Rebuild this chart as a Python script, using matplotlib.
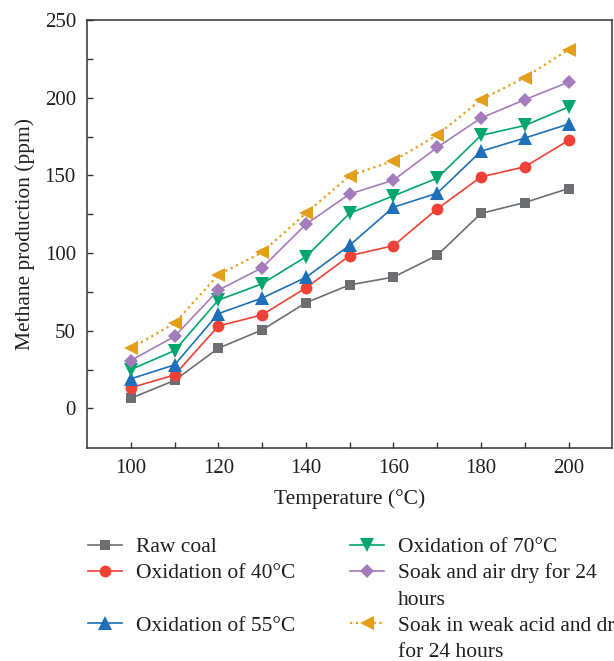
import matplotlib
matplotlib.use("Agg")
import matplotlib.pyplot as plt
from matplotlib.lines import Line2D

plt.rcParams['font.family'] = ['Liberation Serif', 'DejaVu Serif']
plt.rcParams['mathtext.fontset'] = 'stix'

temperature = [100, 110, 120, 130, 140, 150, 160, 170, 180, 190, 200]
raw_coal = [6.5, 18, 38.7, 50.5, 68, 79.5, 84.5, 98.5, 125.5, 132.5, 141.5]
ox_40 = [13.3, 21.5, 53, 60.2, 77.5, 98.3, 104.7, 128.4, 149, 155.5, 172.5]
ox_55 = [19, 28, 61, 71, 84.3, 105, 129.5, 138.5, 165.5, 174, 183]
ox_70 = [25, 37.2, 69.7, 80.2, 97.6, 125.6, 136.8, 148.2, 175.7, 182.1, 194]
soak_air = [30.8, 46.3, 76.1, 90.5, 118.5, 138, 146.9, 168, 186.9, 198.7, 210]
soak_acid = [38.7, 54.8, 86, 100.4, 125.6, 149.7, 159.4, 175.9, 198.7, 212.9, 231]

labels = ["Raw coal", "Oxidation of 40°C", "Oxidation of 55°C",
          "Oxidation of 70°C", "Soak and air dry for 24\nhours",
          "Soak in weak acid and dry\nfor 24 hours"]

colors = ["#6d6e71", "#ef4136", "#1c6fb8", "#00a66e", "#a57cbb", "#e39f1a"]
markers = ["s", "o", "^", "v", "D", "<"]
msizes = [7.5, 8.5, 9.5, 9.5, 7.5, 10]
styles = ["-", "-", "-", "-", "-", ":"]
series = [raw_coal, ox_40, ox_55, ox_70, soak_air, soak_acid]

W, H = 614, 661
fig = plt.figure(figsize=(W / 100, H / 100), dpi=100)
ax = fig.add_axes([87 / W, 1 - 448 / H, (612.3 - 87) / W, (448 - 20) / H])

text_color = "#231f20"
handles = []
for ys, c, m, ms, ls, lab in zip(series, colors, markers, msizes, styles, labels):
    lw = 1.2 if ls == "-" else 1.6
    h, = ax.plot(temperature, ys, color=c, marker=m, markersize=ms, linestyle=ls,
                 linewidth=lw, markeredgewidth=0, label=lab, zorder=3)
    handles.append(h)

ax.set_xlim(90, 210)
ax.set_ylim(-25.5, 250)
ax.set_xticks([100, 120, 140, 160, 180, 200])
ax.set_xticks([110, 130, 150, 170, 190], minor=True)
ax.set_yticks([0, 50, 100, 150, 200, 250])
ax.set_yticks([25, 75, 125, 175, 225], minor=True)
ax.tick_params(which="both", direction="in", length=4, width=1, color="#333333",
               labelsize=15, labelcolor=text_color, top=False, right=False, pad=8)
for s in ax.spines.values():
    s.set_color("#333333")
    s.set_linewidth(1.1)

ax.set_xlabel("Temperature (°C)", fontsize=15.5, color=text_color, labelpad=8)
ax.set_ylabel("Methane production (ppm)", fontsize=15.5, color=text_color, labelpad=7)


def blank(lab):
    return Line2D([], [], linestyle="none", marker="none", label=lab)


col1 = [handles[0], handles[1], blank(" "), handles[2]]
col2 = [handles[3], Line2D([], [], color=handles[4].get_color(), marker="D",
                           markersize=7.5, markeredgewidth=0, linewidth=1.2),
        blank(" "), Line2D([], [], color=handles[5].get_color(), marker="<",
                           markersize=10, markeredgewidth=0, linewidth=1.6,
                           linestyle=":"), blank(" ")]
lab1 = ["Raw coal", "Oxidation of 40°C", " ", "Oxidation of 55°C"]
lab2 = ["Oxidation of 70°C", "Soak and air dry for 24", "hours",
        "Soak in weak acid and dry", "for 24 hours"]

common = dict(frameon=False, fontsize=15.5, handlelength=1.58, handletextpad=0.65,
              labelspacing=0.29, borderpad=0, borderaxespad=0, numpoints=1,
              loc="upper left", labelcolor=text_color)
leg1 = fig.legend(col1, lab1, bbox_to_anchor=(88 / W, 1 - 537 / H), **common)
leg2 = fig.legend(col2, lab2, bbox_to_anchor=(350 / W, 1 - 537 / H), **common)

fig.savefig("out.png", dpi=100)
